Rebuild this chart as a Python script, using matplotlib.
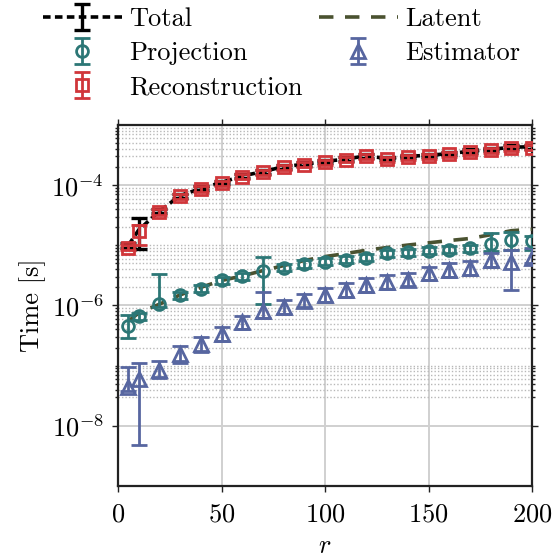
import numpy as np
import matplotlib
matplotlib.use("Agg")
import matplotlib.pyplot as plt
from matplotlib.ticker import FixedLocator, LogFormatterSciNotation, NullFormatter

plt.rcParams['font.family'] = 'serif'
plt.rcParams['font.serif'] = ['cmr10']
plt.rcParams['mathtext.fontset'] = 'cm'
plt.rcParams['axes.formatter.use_mathtext'] = True
plt.rcParams['font.size'] = 19

# ---------------- data ----------------
r = [5, 10, 20, 30, 40, 50, 60, 70, 80, 90, 100, 110, 120, 130, 140, 150, 160, 170, 180, 190, 200]

total = [1.0e-5, 1.8e-5, 3.7e-5, 6.7e-5, 8.8e-5, 1.11e-4, 1.42e-4, 1.68e-4, 2.03e-4, 2.23e-4, 2.48e-4,
         2.71e-4, 3.08e-4, 2.76e-4, 3.02e-4, 3.13e-4, 3.35e-4, 3.66e-4, 3.92e-4, 4.28e-4, 4.34e-4]
total_lo = [9.0e-6, 8.7e-6, 3.4e-5, 6.2e-5, 8.2e-5, 1.03e-4, 1.32e-4, 1.56e-4, 1.89e-4, 2.08e-4, 2.31e-4,
            2.52e-4, 2.85e-4, 2.57e-4, 2.81e-4, 2.91e-4, 3.12e-4, 3.4e-4, 3.65e-4, 3.98e-4, 4.04e-4]
total_hi = [1.1e-5, 2.8e-5, 4.0e-5, 7.2e-5, 9.5e-5, 1.19e-4, 1.52e-4, 1.8e-4, 2.17e-4, 2.39e-4, 2.65e-4,
            2.9e-4, 3.3e-4, 2.95e-4, 3.23e-4, 3.35e-4, 3.58e-4, 3.92e-4, 4.19e-4, 4.58e-4, 4.64e-4]

projection = [4.5e-7, 6.6e-7, 1.07e-6, 1.48e-6, 1.9e-6, 2.63e-6, 3.07e-6, 3.72e-6, 4.27e-6, 4.9e-6, 5.37e-6,
              5.73e-6, 6.26e-6, 7.4e-6, 7.6e-6, 8.1e-6, 8.4e-6, 8.98e-6, 1.05e-5, 1.24e-5, 1.16e-5]
projection_lo = [2.9e-7, 5.8e-7, 9.5e-7, 1.3e-6, 1.66e-6, 2.3e-6, 2.68e-6, 1.07e-6, 3.73e-6, 4.28e-6, 4.7e-6,
                 5.0e-6, 5.47e-6, 6.47e-6, 6.64e-6, 7.08e-6, 7.34e-6, 7.85e-6, 8.1e-6, 8.4e-6, 8.4e-6]
projection_hi = [7.0e-7, 7.6e-7, 3.3e-6, 1.69e-6, 2.17e-6, 3.0e-6, 3.5e-6, 6.3e-6, 4.88e-6, 5.6e-6, 6.14e-6,
                 6.55e-6, 7.16e-6, 8.46e-6, 8.69e-6, 9.26e-6, 9.6e-6, 1.03e-5, 1.6e-5, 1.67e-5, 1.41e-5]

reconstruction = [9.2e-6, 1.71e-5, 3.57e-5, 6.5e-5, 8.6e-5, 1.08e-4, 1.38e-4, 1.63e-4, 1.98e-4, 2.17e-4, 2.41e-4,
                  2.63e-4, 3.0e-4, 2.67e-4, 2.92e-4, 3.03e-4, 3.24e-4, 3.55e-4, 3.79e-4, 4.14e-4, 4.19e-4]
reconstruction_lo = [8.3e-6, 1.0e-5, 3.2e-5, 5.9e-5, 7.8e-5, 9.8e-5, 1.25e-4, 1.48e-4, 1.8e-4, 1.97e-4, 2.19e-4,
                     2.39e-4, 2.72e-4, 2.42e-4, 2.65e-4, 2.75e-4, 2.94e-4, 3.22e-4, 3.44e-4, 3.76e-4, 3.8e-4]
reconstruction_hi = [1.02e-5, 2.2e-5, 3.95e-5, 7.2e-5, 9.5e-5, 1.19e-4, 1.52e-4, 1.8e-4, 2.18e-4, 2.39e-4, 2.66e-4,
                     2.9e-4, 3.3e-4, 2.94e-4, 3.22e-4, 3.34e-4, 3.57e-4, 3.91e-4, 4.18e-4, 4.56e-4, 4.62e-4]

latent = [5.5e-7, 7.5e-7, 1.05e-6, 1.5e-6, 2.0e-6, 2.6e-6, 3.1e-6, 3.8e-6, 4.6e-6, 5.6e-6, 6.5e-6,
          7.3e-6, 8.3e-6, 9.2e-6, 1.01e-5, 1.1e-5, 1.2e-5, 1.3e-5, 1.5e-5, 1.75e-5, 1.85e-5]

estimator = [4.5e-8, 5.9e-8, 8.6e-8, 1.55e-7, 2.28e-7, 3.35e-7, 5.25e-7, 8.2e-7, 9.4e-7, 1.21e-6, 1.48e-6,
             1.79e-6, 2.17e-6, 2.47e-6, 2.7e-6, 3.41e-6, 3.88e-6, 4.14e-6, 5.7e-6, 5.37e-6, 6.26e-6]
estimator_lo = [3.8e-8, 4.8e-9, 6.2e-8, 1.12e-7, 1.7e-7, 2.55e-7, 4.0e-7, 6.3e-7, 7.2e-7, 9.3e-7, 1.14e-6,
                1.38e-6, 1.67e-6, 1.9e-6, 2.08e-6, 2.62e-6, 2.98e-6, 3.18e-6, 4.4e-6, 1.79e-6, 5.0e-6]
estimator_hi = [9.4e-8, 1.1e-7, 1.2e-7, 2.1e-7, 3.0e-7, 4.4e-7, 6.8e-7, 1.7e-6, 1.22e-6, 1.57e-6, 1.92e-6,
                2.33e-6, 2.82e-6, 3.2e-6, 3.5e-6, 4.4e-6, 5.0e-6, 5.4e-6, 7.4e-6, 8.4e-6, 9.0e-6]

x_ticks = [0, 50, 100, 150, 200]
y_major = [1e-8, 1e-6, 1e-4]

# ---------------- style ----------------
c_total = 'black'
c_proj = '#2c7776'
c_rec = '#d0363a'
c_lat = '#4a5230'
c_est = '#5766a0'


def yerr(v, lo, hi):
    v = np.asarray(v)
    return np.vstack([v - np.asarray(lo), np.asarray(hi) - v])


fig = plt.figure(figsize=(5.55, 5.59), dpi=100)
ax = fig.add_axes([0.2126, 0.1306, 0.7460, 0.6458])

ax.errorbar(r, total, yerr=yerr(total, total_lo, total_hi), color=c_total, lw=2.6,
            dashes=(2.1, 1.2), capsize=5.8, capthick=2.4, elinewidth=2.4, label='Total', zorder=3)
ax.errorbar(r, projection, yerr=yerr(projection, projection_lo, projection_hi), color=c_proj,
            ls='none', marker='o', ms=8.5, mfc='none', mew=2.0, capsize=5.8, capthick=2.0,
            elinewidth=2.0, label='Projection', zorder=4)
ax.errorbar(r, reconstruction, yerr=yerr(reconstruction, reconstruction_lo, reconstruction_hi), color=c_rec,
            ls='none', marker='s', ms=9.0, mfc='none', mew=2.0, capsize=5.8, capthick=2.0,
            elinewidth=2.0, label='Reconstruction', zorder=5)
ax.plot(r, latent, color=c_lat, lw=2.6, dashes=(4.0, 3.2), label='Latent', zorder=3)
ax.errorbar(r, estimator, yerr=yerr(estimator, estimator_lo, estimator_hi), color=c_est,
            ls='none', marker='^', ms=9.5, mfc='none', mew=2.0, capsize=5.8, capthick=2.0,
            elinewidth=2.0, label='Estimator', zorder=4)

ax.set_yscale('log')
ax.set_xlim(0, 200)
ax.set_ylim(1e-9, 1e-3)
ax.xaxis.set_major_locator(FixedLocator(x_ticks))
ax.yaxis.set_major_locator(FixedLocator(y_major))
ax.yaxis.set_major_formatter(LogFormatterSciNotation())
minors = [k * 10.0 ** e for e in range(-9, -3) for k in range(1, 10)
          if not any(np.isclose(k * 10.0 ** e, m) for m in y_major)]
ax.yaxis.set_minor_locator(FixedLocator(minors))
ax.yaxis.set_minor_formatter(NullFormatter())

ax.grid(True, which='major', color='#d0d0d0', lw=1.4, ls='-', zorder=0)
ax.grid(True, which='minor', axis='y', color='#b8b8b8', lw=1.0, ls=(0, (1, 1.5)), zorder=0)
ax.set_axisbelow(True)

ax.tick_params(which='both', direction='out', top=True, right=True, width=1.0, colors='#222222',
               labelcolor='black')
ax.tick_params(which='major', length=4)
ax.tick_params(which='minor', length=2.5)
ax.tick_params(axis='x', which='major', pad=8)
ax.tick_params(axis='y', which='major', pad=6)
for s in ax.spines.values():
    s.set_linewidth(1.6)
    s.set_color('#222222')

ax.set_xlabel('$r$', labelpad=6)
ax.set_ylabel('Time [s]', labelpad=4)

handles, labels = ax.get_legend_handles_labels()
order = ['Total', 'Projection', 'Reconstruction', 'Latent', 'Estimator']
hmap = dict(zip(labels, handles))
fig.legend([hmap[k] for k in order], order, loc='upper left', bbox_to_anchor=(0.058, 1.005),
           ncol=2, frameon=False, handlelength=3.0, handletextpad=0.28, labelspacing=0.38,
           columnspacing=0.6, borderaxespad=0.0, fontsize=19)

fig.savefig('out.png', dpi=100)
